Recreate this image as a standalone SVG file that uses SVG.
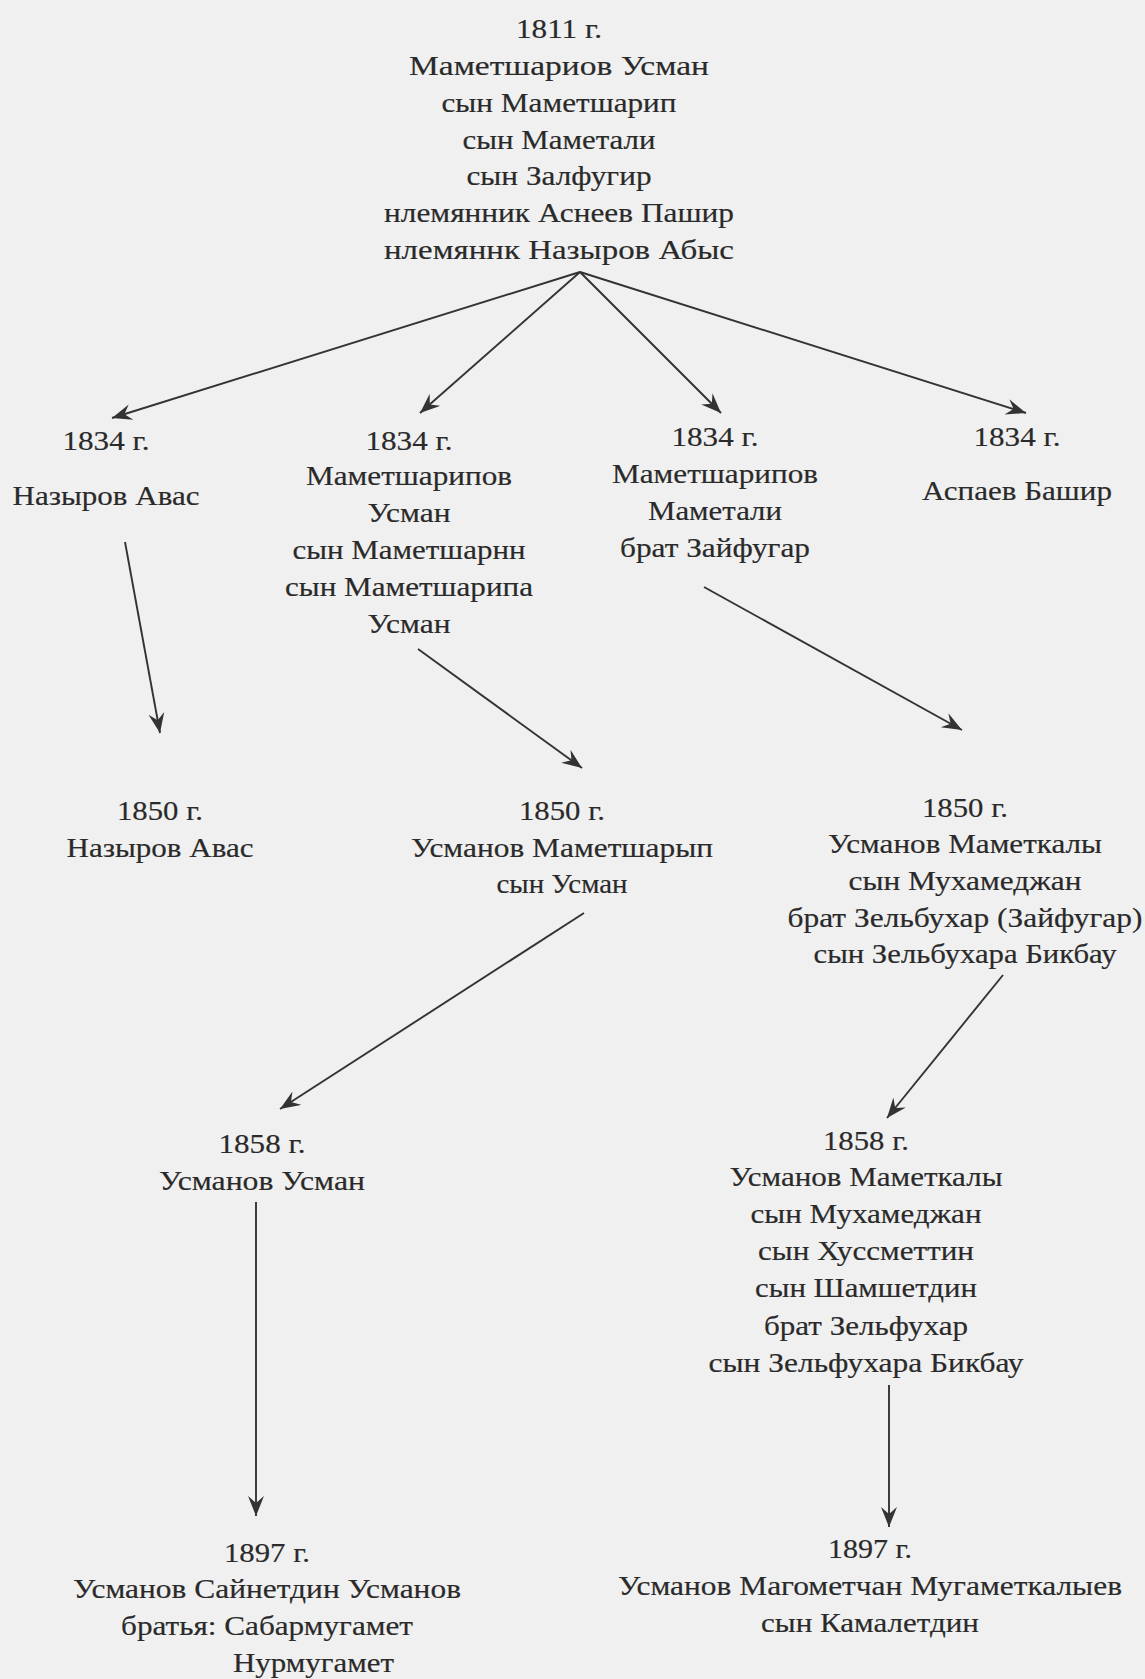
<svg xmlns="http://www.w3.org/2000/svg" width="1145" height="1679" viewBox="0 0 1145 1679">
<style>
text{font-family:"Liberation Serif","Times New Roman",serif;font-size:28px;fill:#2a2a2a;stroke:#2a2a2a;stroke-width:0.18;text-anchor:middle}
.c line{stroke:#333;stroke-width:1.9;fill:none;marker-end:url(#ah)}
</style>
<defs>
<marker id="ah" markerUnits="userSpaceOnUse" markerWidth="22" markerHeight="18" refX="20" refY="8" orient="auto">
<path d="M0,0 L20,8 L0,16 L7,8 z" fill="#333"/>
</marker>
</defs>
<rect width="1145" height="1679" fill="#f0f0f0"/>
<g id="n1811">
<text x="559" y="38" textLength="86" lengthAdjust="spacingAndGlyphs">1811 г.</text>
<text x="559" y="75" textLength="300" lengthAdjust="spacingAndGlyphs">Маметшариов Усман</text>
<text x="559" y="112" textLength="235" lengthAdjust="spacingAndGlyphs">сын Маметшарип</text>
<text x="559" y="149" textLength="193" lengthAdjust="spacingAndGlyphs">сын Маметали</text>
<text x="559" y="185" textLength="185" lengthAdjust="spacingAndGlyphs">сын Залфугир</text>
<text x="559" y="222" textLength="350" lengthAdjust="spacingAndGlyphs">нлемянник Аснеев Пашир</text>
<text x="559" y="259" textLength="350" lengthAdjust="spacingAndGlyphs">нлемяннк Назыров Абыс</text>
</g>
<g id="n1834a">
<text x="106" y="450" textLength="87" lengthAdjust="spacingAndGlyphs">1834 г.</text>
<text x="106" y="505" textLength="187" lengthAdjust="spacingAndGlyphs">Назыров Авас</text>
</g>
<g id="n1834b">
<text x="409" y="450" textLength="87" lengthAdjust="spacingAndGlyphs">1834 г.</text>
<text x="409" y="485" textLength="206" lengthAdjust="spacingAndGlyphs">Маметшарипов</text>
<text x="409" y="522" textLength="83" lengthAdjust="spacingAndGlyphs">Усман</text>
<text x="409" y="559" textLength="233" lengthAdjust="spacingAndGlyphs">сын Маметшарнн</text>
<text x="409" y="596" textLength="248" lengthAdjust="spacingAndGlyphs">сын Маметшарипа</text>
<text x="409" y="633" textLength="83" lengthAdjust="spacingAndGlyphs">Усман</text>
</g>
<g id="n1834c">
<text x="715" y="446" textLength="87" lengthAdjust="spacingAndGlyphs">1834 г.</text>
<text x="715" y="483" textLength="206" lengthAdjust="spacingAndGlyphs">Маметшарипов</text>
<text x="715" y="520" textLength="134" lengthAdjust="spacingAndGlyphs">Маметали</text>
<text x="715" y="557" textLength="190" lengthAdjust="spacingAndGlyphs">брат Зайфугар</text>
</g>
<g id="n1834d">
<text x="1017" y="446" textLength="87" lengthAdjust="spacingAndGlyphs">1834 г.</text>
<text x="1017" y="500" textLength="190" lengthAdjust="spacingAndGlyphs">Аспаев Башир</text>
</g>
<g id="n1850a">
<text x="160" y="820" textLength="86" lengthAdjust="spacingAndGlyphs">1850 г.</text>
<text x="160" y="857" textLength="187" lengthAdjust="spacingAndGlyphs">Назыров Авас</text>
</g>
<g id="n1850b">
<text x="562" y="820" textLength="86" lengthAdjust="spacingAndGlyphs">1850 г.</text>
<text x="562" y="857" textLength="302" lengthAdjust="spacingAndGlyphs">Усманов Маметшарып</text>
<text x="562" y="893" textLength="131" lengthAdjust="spacingAndGlyphs">сын Усман</text>
</g>
<g id="n1850c">
<text x="965" y="817" textLength="86" lengthAdjust="spacingAndGlyphs">1850 г.</text>
<text x="965" y="853" textLength="274" lengthAdjust="spacingAndGlyphs">Усманов Маметкалы</text>
<text x="965" y="890" textLength="233" lengthAdjust="spacingAndGlyphs">сын Мухамеджан</text>
<text x="965" y="927" textLength="355" lengthAdjust="spacingAndGlyphs">брат Зельбухар (Зайфугар)</text>
<text x="965" y="963" textLength="303" lengthAdjust="spacingAndGlyphs">сын Зельбухара Бикбау</text>
</g>
<g id="n1858a">
<text x="262" y="1153" textLength="87" lengthAdjust="spacingAndGlyphs">1858 г.</text>
<text x="262" y="1190" textLength="206" lengthAdjust="spacingAndGlyphs">Усманов Усман</text>
</g>
<g id="n1858b">
<text x="866" y="1150" textLength="86" lengthAdjust="spacingAndGlyphs">1858 г.</text>
<text x="866" y="1186" textLength="273" lengthAdjust="spacingAndGlyphs">Усманов Маметкалы</text>
<text x="866" y="1223" textLength="231" lengthAdjust="spacingAndGlyphs">сын Мухамеджан</text>
<text x="866" y="1260" textLength="216" lengthAdjust="spacingAndGlyphs">сын Хуссметтин</text>
<text x="866" y="1297" textLength="222" lengthAdjust="spacingAndGlyphs">сын Шамшетдин</text>
<text x="866" y="1335" textLength="204" lengthAdjust="spacingAndGlyphs">брат Зельфухар</text>
<text x="866" y="1372" textLength="315" lengthAdjust="spacingAndGlyphs">сын Зельфухара Бикбау</text>
</g>
<g id="n1897a">
<text x="267" y="1562" textLength="86" lengthAdjust="spacingAndGlyphs">1897 г.</text>
<text x="267" y="1598" textLength="388" lengthAdjust="spacingAndGlyphs">Усманов Сайнетдин Усманов</text>
<text x="267" y="1635" textLength="292" lengthAdjust="spacingAndGlyphs">братья: Сабармугамет</text>
<text x="233" y="1672" textLength="161" lengthAdjust="spacingAndGlyphs" style="text-anchor:start">Нурмугамет</text>
</g>
<g id="n1897b">
<text x="870" y="1558" textLength="84" lengthAdjust="spacingAndGlyphs">1897 г.</text>
<text x="870" y="1595" textLength="504" lengthAdjust="spacingAndGlyphs">Усманов Магометчан Мугаметкалыев</text>
<text x="870" y="1632" textLength="218" lengthAdjust="spacingAndGlyphs">сын Камалетдин</text>
</g>
<g id="connectors" class="c">
<line x1="580" y1="272" x2="112" y2="418"/>
<line x1="580" y1="272" x2="420" y2="413"/>
<line x1="580" y1="272" x2="721" y2="413"/>
<line x1="580" y1="272" x2="1026" y2="413"/>
<line x1="125" y1="542" x2="160" y2="733"/>
<line x1="418" y1="649" x2="582" y2="768"/>
<line x1="704" y1="587" x2="962" y2="730"/>
<line x1="584" y1="913" x2="280" y2="1109"/>
<line x1="1003" y1="975" x2="887" y2="1118"/>
<line x1="256" y1="1202" x2="256" y2="1516"/>
<line x1="889" y1="1385" x2="889" y2="1527"/>
</g>
</svg>
